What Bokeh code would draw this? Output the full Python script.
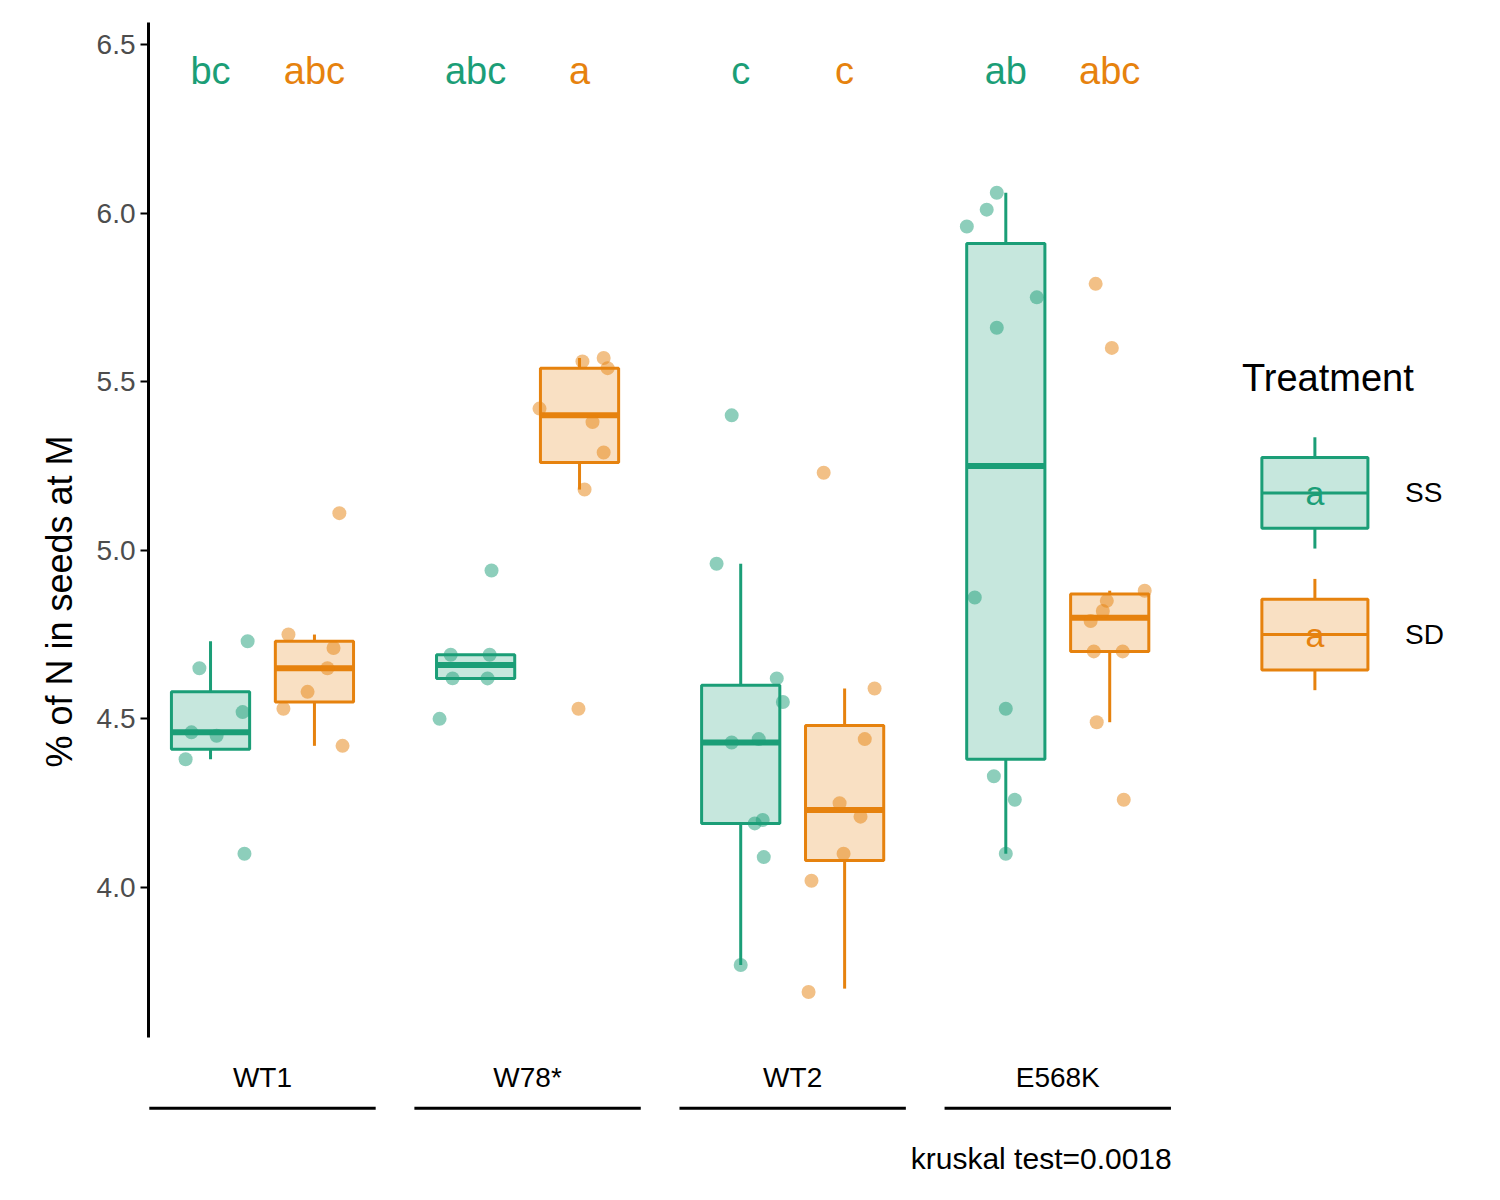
from bokeh.plotting import figure
from bokeh.models import Range1d, LinearAxis, FixedTicker, NumeralTickFormatter
from bokeh.core.properties import value
from bokeh.embed import file_html
from bokeh.resources import INLINE

genotypes = ["WT1", "W78*", "WT2", "E568K"]
treatments = ["SS", "SD"]
colors = {"SS": "#1b9e77", "SD": "#e6820e"}
letters = {"SS": ["bc", "abc", "c", "ab"], "SD": ["abc", "a", "c", "abc"]}

# box stats: (lower whisker, q1, median, q3, upper whisker)
stats = {
    "SS": [(4.38, 4.41, 4.46, 4.58, 4.73), (4.62, 4.62, 4.66, 4.69, 4.69),
           (3.77, 4.19, 4.43, 4.60, 4.96), (4.10, 4.38, 5.25, 5.91, 6.06)],
    "SD": [(4.42, 4.55, 4.65, 4.73, 4.75), (5.18, 5.26, 5.40, 5.54, 5.57),
           (3.70, 4.08, 4.23, 4.48, 4.59), (4.49, 4.70, 4.80, 4.87, 4.88)],
}
pts_y = {
    "SS": [[4.38, 4.46, 4.65, 4.45, 4.52, 4.73, 4.10],
           [4.50, 4.69, 4.62, 4.62, 4.69, 4.94],
           [4.96, 5.40, 4.43, 3.77, 4.19, 4.44, 4.20, 4.09, 4.62, 4.55],
           [5.96, 6.01, 6.06, 5.66, 5.75, 4.86, 4.53, 4.33, 4.26, 4.10]],
    "SD": [[4.53, 4.75, 4.58, 4.65, 4.71, 4.42, 5.11],
           [5.42, 4.53, 5.56, 5.18, 5.38, 5.29, 5.57, 5.54],
           [3.69, 4.02, 5.23, 4.25, 4.10, 4.21, 4.44, 4.59],
           [5.79, 5.60, 4.88, 4.79, 4.82, 4.85, 4.70, 4.70, 4.49, 4.26]],
}
pts_jit = {
    "SS": [[-0.094, -0.072, -0.042, 0.023, 0.121, 0.14, 0.128],
           [-0.136, -0.094, -0.087, 0.045, 0.053, 0.06],
           [-0.091, -0.034, -0.034, 0, 0.053, 0.068, 0.083, 0.087, 0.136, 0.159],
           [-0.147, -0.072, -0.034, -0.034, 0.117, -0.117, 0, -0.045, 0.034, 0]],
    "SD": [[-0.117, -0.098, -0.026, 0.049, 0.072, 0.106, 0.094],
           [-0.151, -0.004, 0.011, 0.019, 0.049, 0.091, 0.091, 0.106],
           [-0.136, -0.125, -0.079, -0.019, -0.004, 0.06, 0.076, 0.113],
           [-0.053, 0.008, 0.132, -0.072, -0.026, -0.011, -0.06, 0.049, -0.049, 0.053]],
}
yticks = [4.0, 4.5, 5.0, 5.5, 6.0, 6.5]
kruskal = "kruskal test=0.0018"

FONT = "Liberation Sans"
dodge = {"SS": -0.196, "SD": 0.196}
bw = 0.295

p = figure(width=1492, height=1190, output_backend="svg", toolbar_location=None,
           x_range=Range1d(0.57, 5.64), y_range=Range1d(3.131, 6.565),
           x_axis_location=None, y_axis_location=None,
           min_border_left=148, min_border_right=0, min_border_top=22, min_border_bottom=10)
p.grid.visible = False
p.outline_line_color = None

ax = LinearAxis(bounds=(3.555, 6.565), ticker=FixedTicker(ticks=yticks),
                axis_label="% of N in seeds at M", formatter=NumeralTickFormatter(format="0.0"))
ax.axis_line_width = 3
ax.major_tick_line_width = 2
ax.major_tick_out = 8
ax.major_tick_in = 0
ax.minor_tick_line_color = None
ax.major_label_text_font = FONT
ax.major_label_text_font_size = "28px"
ax.major_label_text_color = "#4d4d4d"
ax.axis_label_text_font = FONT
ax.axis_label_text_font_size = "36px"
ax.axis_label_text_font_style = "normal"
ax.axis_label_text_color = "black"
ax.axis_label_standoff = 14
p.add_layout(ax, "left")

for t in treatments:
    c = colors[t]
    xs = [i + 1 + dodge[t] for i in range(len(genotypes))]
    lw, q1, md, q3, uw = zip(*stats[t])
    p.segment(xs, lw, xs, q1, line_color=c, line_width=3)
    p.segment(xs, q3, xs, uw, line_color=c, line_width=3)
    p.vbar(x=xs, width=bw, bottom=q1, top=q3, fill_color=c, fill_alpha=0.25,
           line_color=c, line_width=3)
    p.segment([x - bw / 2 for x in xs], md, [x + bw / 2 for x in xs], md,
              line_color=c, line_width=6)
    px, py = [], []
    for i in range(len(genotypes)):
        px += [xs[i] + j for j in pts_jit[t][i]]
        py += pts_y[t][i]
    p.scatter(px, py, size=14, fill_color=c, fill_alpha=0.5, line_color=None)
    p.text(xs, [6.42] * 4, text=letters[t], text_color=c, text_align="center",
           text_baseline="middle", text_font=value(FONT), text_font_size="38px")

gx = [i + 1 for i in range(len(genotypes))]
p.text(gx, [3.437] * 4, text=genotypes, text_align="center", text_baseline="middle",
       text_font=value(FONT), text_font_size="28px", text_color="black")
p.segment([g - 0.427 for g in gx], [3.345] * 4, [g + 0.427 for g in gx], [3.345] * 4,
          line_color="black", line_width=3)
p.text([4.43], [3.196], text=[kruskal], text_align="right", text_baseline="middle",
       text_font=value(FONT), text_font_size="30px", text_color="black")

# legend
p.text([4.695], [5.51], text=["Treatment"], text_align="left", text_baseline="middle",
       text_font=value(FONT), text_font_size="38px", text_color="black")
lx = 4.97
lbw = 0.4
for t, yc in [("SS", 5.17), ("SD", 4.75)]:
    c = colors[t]
    p.segment([lx, lx], [yc - 0.165, yc + 0.105], [lx, lx], [yc - 0.105, yc + 0.165],
              line_color=c, line_width=3)
    p.rect([lx], [yc], width=lbw, height=0.21, fill_color=c, fill_alpha=0.25,
           line_color=c, line_width=3)
    p.segment([lx - lbw / 2], [yc], [lx + lbw / 2], [yc], line_color=c, line_width=3)
    p.text([lx], [yc], text=["a"], text_color=c, text_align="center", text_baseline="middle",
           text_font=value(FONT), text_font_size="34px")
    p.text([5.31], [yc], text=[t], text_align="left", text_baseline="middle",
           text_font=value(FONT), text_font_size="28px", text_color="black")

open("out.html", "w").write(file_html(p, INLINE))
